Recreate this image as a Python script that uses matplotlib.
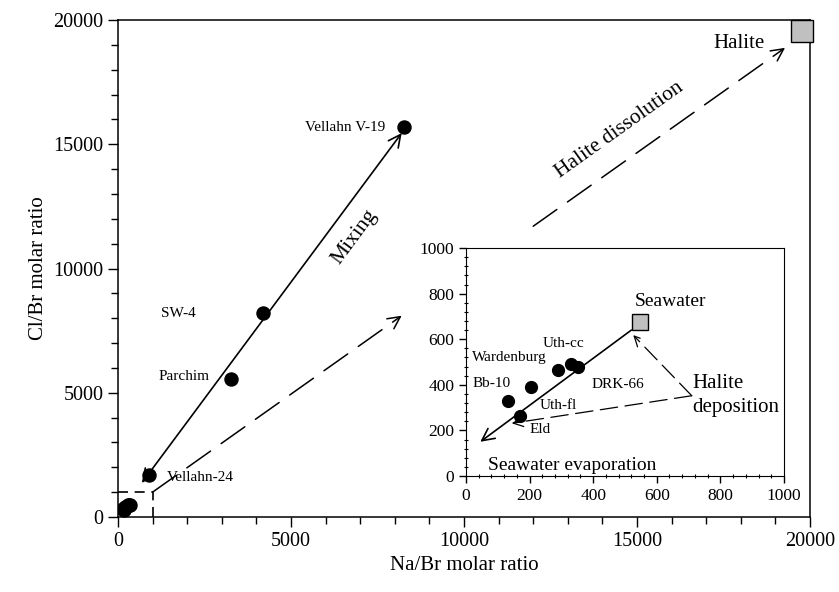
import matplotlib
matplotlib.use("Agg")
import matplotlib.pyplot as plt
from matplotlib.ticker import MultipleLocator

plt.rcParams['font.family'] = ['Liberation Serif', 'DejaVu Serif']

# named samples in the main plot (Na/Br, Cl/Br)
main_names = ["Vellahn V-19", "SW-4", "Parchim", "Vellahn-24"]
main_x = [8270, 4200, 3270, 900]
main_y = [15700, 8200, 5550, 1700]

# low ratio samples (shown in inset, also plotted near the origin)
low_names = ["Bb-10", "Wardenburg", "Eld", "Uth-cc", "Uth-cc", "DRK-66"]
low_x = [133, 206, 170, 290, 329, 353]
low_y = [329, 389, 264, 465, 491, 477]

halite = (19770, 19560)
seawater = (547, 674)

fig = plt.figure(figsize=(8.39, 5.92), dpi=100)
ax = fig.add_axes([0.1406, 0.1267, 0.8248, 0.8395])

ax.plot(main_x, main_y, 'o', color='black', ms=9.4, zorder=5)
ax.plot(low_x, low_y, 'o', color='black', ms=9.4, zorder=5)
ax.plot(*halite, 's', ms=15.5, mfc='#c0c0c0', mec='black', mew=1, clip_on=False, zorder=6)

# mixing line (double arrow)
ax.annotate('', xy=(8200, 15450), xytext=(690, 1370),
            arrowprops=dict(arrowstyle='<->', lw=1.2, color='black',
                            mutation_scale=22, shrinkA=0, shrinkB=0))
# dashed arrow from the dashed box corner
ax.annotate('', xy=(8200, 8100), xytext=(1000, 1000),
            arrowprops=dict(arrowstyle='->', lw=1.1, color='black', linestyle=(0, (19, 8.5)),
                            mutation_scale=22, shrinkA=0, shrinkB=0))
# halite dissolution
ax.annotate('', xy=(19280, 18880), xytext=(12000, 11700),
            arrowprops=dict(arrowstyle='->', lw=1.1, color='black', linestyle=(0, (19, 8.5)),
                            mutation_scale=22, shrinkA=0, shrinkB=0))
# dashed box marking inset range
ax.plot([0, 1000, 1000], [1000, 1000, 0], color='black', lw=1.2, ls=(0, (6, 4)))

ax.text(7717, 15690, "Vellahn V-19", fontsize=11, ha='right', va='center')
ax.text(2254, 8200, "SW-4", fontsize=11, ha='right', va='center')
ax.text(2659, 5634, "Parchim", fontsize=11, ha='right', va='center')
ax.text(1416, 1570, "Vellahn-24", fontsize=11, ha='left', va='center')
ax.text(6850, 11270, "Mixing", fontsize=15.5, rotation=53.5, ha='center', va='center')
ax.text(14500, 15570, "Halite dissolution", fontsize=15.5, rotation=35.5, ha='center', va='center')
ax.text(18700, 19074, "Halite", fontsize=15, ha='right', va='center')

ax.set_xlim(0, 20000)
ax.set_ylim(0, 20000)
ax.xaxis.set_major_locator(MultipleLocator(5000))
ax.yaxis.set_major_locator(MultipleLocator(5000))
ax.xaxis.set_minor_locator(MultipleLocator(1000))
ax.yaxis.set_minor_locator(MultipleLocator(1000))
ax.tick_params(which='major', direction='out', length=7, width=1, labelsize=14.5)
ax.tick_params(which='minor', direction='out', length=5, width=1)
ax.set_xlabel("Na/Br molar ratio", fontsize=15)
ax.set_ylabel("Cl/Br molar ratio", fontsize=15)
for s in ax.spines.values():
    s.set_linewidth(1.1)

# inset
ins = fig.add_axes([0.5554, 0.196, 0.379, 0.385])
ins.plot(low_x, low_y, 'o', color='black', ms=8.5, zorder=5)
ins.plot(*seawater, 's', ms=12, mfc='#c0c0c0', mec='black', mew=1, zorder=6)
ins.annotate('', xy=(45, 150), xytext=(520, 640),
             arrowprops=dict(arrowstyle='->', lw=1.2, color='black',
                             mutation_scale=22, shrinkA=0, shrinkB=0))
ins.annotate('', xy=(526, 618), xytext=(710, 352),
             arrowprops=dict(arrowstyle='->', lw=0.9, color='black', linestyle=(0, (14, 6)),
                             mutation_scale=18, shrinkA=0, shrinkB=0))
ins.annotate('', xy=(144, 231), xytext=(710, 352),
             arrowprops=dict(arrowstyle='->', lw=0.9, color='black', linestyle=(0, (14, 6)),
                             mutation_scale=18, shrinkA=0, shrinkB=0))

ins.text(642, 764, "Seawater", fontsize=14, ha='center', va='center')
ins.text(306, 582, "Uth-cc", fontsize=11, ha='center', va='center')
ins.text(18, 521, "Wardenburg", fontsize=11, ha='left', va='center')
ins.text(20, 406, "Bb-10", fontsize=11, ha='left', va='center')
ins.text(395, 403, "DRK-66", fontsize=11, ha='left', va='center')
ins.text(233, 308, "Uth-fl", fontsize=11, ha='left', va='center')
ins.text(201, 202, "Eld", fontsize=11, ha='left', va='center')
ins.text(712, 406, "Halite", fontsize=15, ha='left', va='center')
ins.text(712, 301, "deposition", fontsize=15, ha='left', va='center')
ins.text(70, 44, "Seawater evaporation", fontsize=14, ha='left', va='center')

ins.set_xlim(0, 1000)
ins.set_ylim(0, 1000)
ins.xaxis.set_major_locator(MultipleLocator(200))
ins.yaxis.set_major_locator(MultipleLocator(200))
ins.xaxis.set_minor_locator(MultipleLocator(40))
ins.yaxis.set_minor_locator(MultipleLocator(40))
ins.tick_params(which='major', direction='out', length=5, width=1, labelsize=12.5)
ins.tick_params(which='minor', direction='inout', length=3, width=0.8)

fig.savefig("out.png", dpi=100)
